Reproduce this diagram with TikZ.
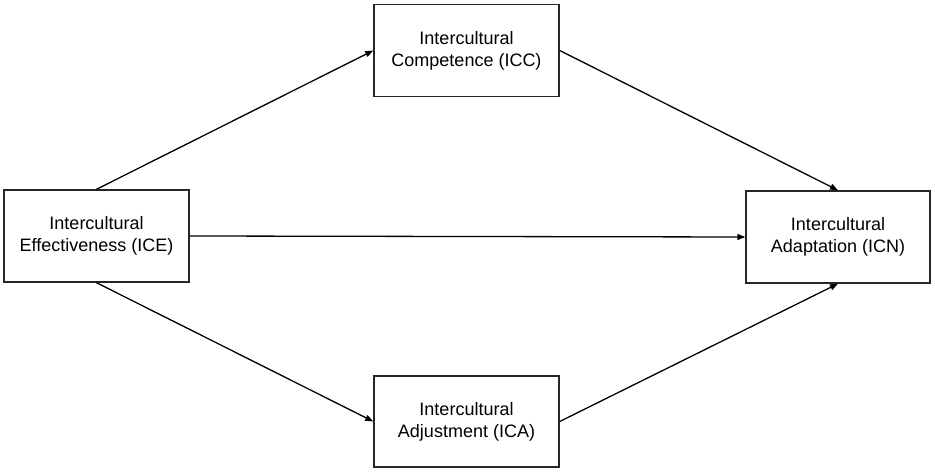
\documentclass[tikz,border=0pt]{standalone}
\usepackage{fontspec}
\setmainfont{Liberation Sans}
\usetikzlibrary{arrows.meta}
\begin{document}
\begin{tikzpicture}[x=1bp,y=-1bp,
  boxnode/.style={draw=black!85, line width=1.4bp, fill=white, inner sep=0pt,
    minimum width=185bp, minimum height=92bp, align=center,
    font=\fontsize{18bp}{22bp}\selectfont},
  conn/.style={draw=black, line width=1.3bp, -{Triangle[length=8bp,width=6bp]}}]
\useasboundingbox (0,0) rectangle (935,473);
\node[boxnode] (icc) at (466.5,50.5) {Intercultural\\Competence (ICC)};
\node[boxnode] (ice) at (96.5,236) {Intercultural\\Effectiveness (ICE)};
\node[boxnode, minimum width=184bp] (icn) at (838,237) {Intercultural\\Adaptation (ICN)};
\node[boxnode, minimum height=91bp] (ica) at (466.5,421.5) {Intercultural\\Adjustment (ICA)};
\draw[conn] (ice.north) -- (icc.west);
\draw[conn] (icc.east) -- (icn.north);
\draw[conn] (ice.east) -- (icn.west);
\draw[conn] (ice.south) -- (ica.west);
\draw[conn] (ica.east) -- (icn.south);
\end{tikzpicture}
\end{document}
